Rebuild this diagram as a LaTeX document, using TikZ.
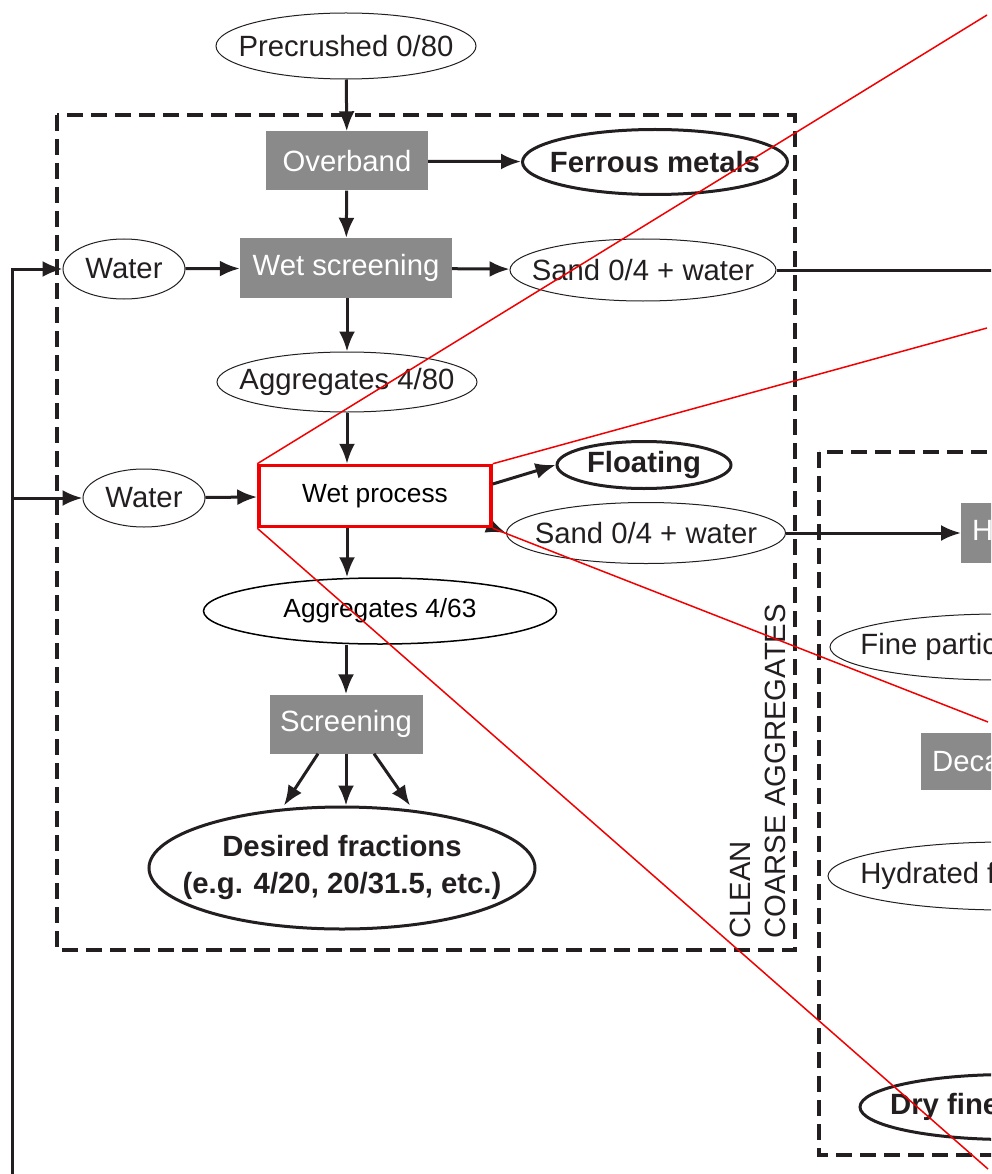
\documentclass[tikz,border=0pt]{standalone}
\usepackage{fontspec}
\setmainfont{Liberation Sans}
\usepackage{tikz}
\usetikzlibrary{shapes.geometric, arrows.meta, positioning, calc}
\definecolor{boxgray}{RGB}{138,138,138}
\definecolor{txtdark}{RGB}{35,31,32}
\definecolor{zoomred}{RGB}{240,0,0}
\newcommand{\tight}[1]{\makebox[0pt]{#1}}
\tikzset{
  procbox/.style={rectangle, fill=boxgray, text=white, minimum height=59pt,
    inner sep=0pt, font=\fontsize{29.3}{34}\selectfont},
  item/.style={ellipse, draw=txtdark, line width=1pt, inner sep=0pt,
    text=txtdark, font=\fontsize{29.3}{34}\selectfont},
  product/.style={ellipse, draw=txtdark, line width=3pt, inner sep=0pt,
    text=txtdark, font=\bfseries\fontsize{29.3}{37}\selectfont},
  arrow/.style={-{Latex[length=20pt,width=16pt]}, line width=3pt, color=txtdark},
  line/.style={line width=3pt, color=txtdark},
  zone/.style={draw=txtdark, line width=3.2pt, dash pattern=on 16pt off 8pt},
  zoomline/.style={draw=zoomred, line width=1.5pt}
}

\begin{document}
\begin{tikzpicture}[x=1pt, y=-1pt,
  small/.style={font=\fontsize{26.3}{30}\selectfont}
]
\useasboundingbox (0,0) rectangle (991,1174);
\clip (0,0) rectangle (991,1174);
% zones
\draw[zone] (57,115) rectangle (795,950);
\draw[zone] (819,452) rectangle (1400,1155);
\node[rotate=90, anchor=west, align=left, inner sep=0pt, text=txtdark,
  font=\fontsize{29.3}{35}\selectfont] (zonelbl) at (758,939) {CLEAN\\COARSE AGGREGATES};
% coarse line
\node[item, minimum width=260pt, minimum height=66pt] (precrushed) at (346,46) {\tight{Precrushed 0/80}};
\node[procbox, minimum width=162pt] (overband) at (347,161) {Overband};
\node[product, minimum width=265pt, minimum height=65pt] (ferrous) at (655,162) {\tight{Ferrous metals}};
\node[item, minimum width=122pt, minimum height=60pt] (water1) at (124,269) {\tight{Water}};
\node[procbox, minimum width=212pt, minimum height=60pt] (wetscreen) at (346,268) {Wet screening};
\node[item, minimum width=266pt, minimum height=62pt] (sand1) at (643,270) {\tight{Sand 0/4 + water}};
\node[item, minimum width=260pt, minimum height=60pt] (agg80) at (347,382) {\tight{Aggregates 4/80}};
\node[item, minimum width=122pt, minimum height=58pt] (water2) at (144,498) {\tight{Water}};
\node[item, minimum width=279pt, minimum height=61pt] (sand2) at (646,533) {\tight{Sand 0/4 + water}};
\coordinate (sandsrc) at (470,518);
\draw[arrow] (sandsrc) -- (sand2.west);
\node[rectangle, draw=zoomred, line width=3.5pt, fill=white, text=black, small,
  minimum width=232pt, minimum height=61pt] (wetproc) at (375,496) {Wet process};
\node[product, minimum width=174pt, minimum height=47pt] (floating) at (644,465) {\tight{Floating}};
\node[item, draw=black, line width=1.5pt, text=black, small,
  minimum width=353pt, minimum height=66pt] (agg63) at (380,611) {\tight{Aggregates 4/63}};
\node[procbox, minimum width=153pt] (screening) at (346,724) {Screening};
\node[product, minimum width=386pt, minimum height=122pt] (desired) at (342,868)
  {\tight{\begin{tabular}{@{}c@{}}Desired fractions\\(e.g. 4/20, 20/31.5, etc.)\end{tabular}}};
% fine line (cut at the right edge)
\node[procbox, anchor=west, minimum height=60pt, inner xsep=11pt] (hydro) at (961,533) {Hydrocyclone};
\node[item, minimum width=340pt, minimum height=66pt] (fines) at (1000,647) {\tight{Fine particles + water}};
\node[procbox, anchor=west, minimum height=57pt, inner xsep=11pt] (decant) at (921,761) {Decantation};
\node[item, minimum width=356pt, minimum height=68pt] (hydrated) at (1006,876) {\tight{Hydrated fine particles}};
\node[product, minimum width=298pt, minimum height=65pt] (dryfines) at (1009,1107) {\tight{Dry fine particles}};
% arrows
\draw[arrow] (precrushed) -- (overband);
\draw[arrow] (overband) -- (ferrous);
\draw[arrow] (overband) -- (wetscreen);
\draw[arrow] (water1) -- (wetscreen);
\draw[arrow] (wetscreen) -- (sand1);
\draw[arrow] (wetscreen.south -| agg80) -- (agg80);
\draw[arrow] (agg80.south) -- (agg80.south |- wetproc.north);
\draw[arrow] (water2) -- (wetproc);
\draw[arrow] ([yshift=12pt]wetproc.east) -- (floating.west);
\draw[arrow] (sand2) -- (hydro);
\draw[arrow] (wetproc.south -| agg80) -- (agg63.north -| agg80);
\draw[arrow] (agg63.south -| screening) -- (screening);
\draw[arrow] ([xshift=-28pt]screening.south) -- ([xshift=-58pt]desired.north);
\draw[arrow] (screening.south) -- (desired.north -| screening);
\draw[arrow] ([xshift=28pt]screening.south) -- ([xshift=68pt]desired.north);
% water return
\coordinate (sandout) at (1100,270);
\coordinate (ret) at (12,1200);
\draw[line] (sand1) -- (sandout);
\draw[arrow] (ret) |- (water1.west);
\draw[arrow] (ret |- water2.west) -- (water2.west);
% zoom lines
\coordinate (z1) at (987,15);
\coordinate (z2) at (987,328);
\coordinate (z3) at (988,722);
\coordinate (z4) at (988,1169);
\draw[zoomline] (wetproc.north west) -- (z1);
\draw[zoomline] (wetproc.north east) -- (z2);
\draw[zoomline] (wetproc.south east) -- (z3);
\draw[zoomline] (wetproc.south west) -- (z4);
\end{tikzpicture}
\end{document}
